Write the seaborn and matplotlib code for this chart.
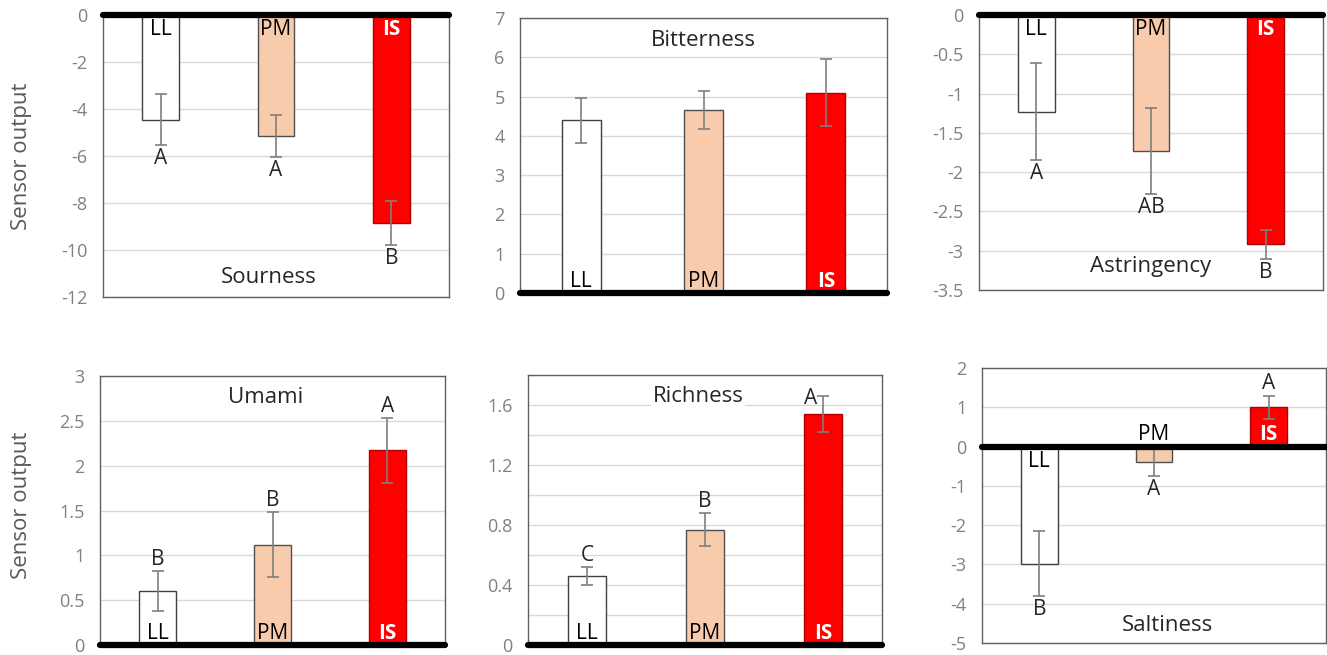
import matplotlib
matplotlib.use("Agg")
import numpy as np
import pandas as pd
import matplotlib.pyplot as plt
import seaborn as sns
from matplotlib.ticker import FuncFormatter, MultipleLocator

# groups and colours
groups = ["LL", "PM", "IS"]
bar_colors = ["#FFFFFF", "#F8CBAD", "#FF0000"]
edge_colors = ["#404040", "#505050", "#B00000"]

# mean sensor output, error (SD) and significance letters per taste
sourness = [-4.45, -5.15, -8.85]
sourness_err = [1.1, 0.9, 0.95]
sourness_letters = ["A", "A", "B"]

bitterness = [4.4, 4.65, 5.1]
bitterness_err = [0.57, 0.48, 0.85]
bitterness_letters = ["", "", ""]

astringency = [-1.23, -1.73, -2.92]
astringency_err = [0.62, 0.55, 0.19]
astringency_letters = ["A", "AB", "B"]

umami = [0.6, 1.12, 2.17]
umami_err = [0.22, 0.36, 0.36]
umami_letters = ["B", "B", "A"]

richness = [0.46, 0.77, 1.54]
richness_err = [0.06, 0.11, 0.12]
richness_letters = ["C", "B", "A"]

saltiness = [-2.98, -0.4, 1.0]
saltiness_err = [0.83, 0.35, 0.3]
saltiness_letters = ["B", "A", "A"]

sns.set_style("white")
plt.rcParams["font.family"] = ["Open Sans", "DejaVu Sans"]
plt.rcParams["axes.unicode_minus"] = False

W, H = 1327, 655
fig = plt.figure(figsize=(W / 100, H / 100), dpi=100)


def px_rect(left, top, right, bottom):
    return [left / W, 1 - bottom / H, (right - left) / W, (bottom - top) / H]


def draw_panel(rect, title, values, errs, letters, ylim, step, grid_step, title_xy):
    ax = fig.add_axes(rect)
    df = pd.DataFrame({"group": groups, "value": values})
    sns.barplot(data=df, x="group", y="value", hue="group", order=groups,
                hue_order=groups, palette=bar_colors, saturation=1, width=0.32,
                linewidth=1, legend=False, ax=ax, zorder=3)
    for patch, ec in zip(ax.patches, edge_colors):
        patch.set_edgecolor(ec)
    ax.errorbar(range(3), values, yerr=errs, fmt="none", ecolor="#7f7f7f",
                elinewidth=1.2, capsize=4, capthick=1.2, zorder=4)

    ax.set_xlim(-0.5, 2.5)
    ax.set_ylim(*ylim)
    ax.yaxis.set_major_locator(MultipleLocator(step))
    ax.yaxis.set_minor_locator(MultipleLocator(grid_step))
    ax.yaxis.set_major_formatter(FuncFormatter(lambda v, p: f"{round(v, 3):g}"))
    ax.grid(True, axis="y", which="both", color="#d9d9d9", lw=1)
    ax.set_axisbelow(True)
    ax.set_xticks([])
    ax.set_xlabel("")
    ax.set_ylabel("")
    ax.tick_params(axis="y", which="both", length=0, labelsize=13,
                   labelcolor="#808080", pad=11)
    for s in ax.spines.values():
        s.set_color("#606060")
        s.set_linewidth(1)
    ax.axhline(0, color="black", lw=4.5, zorder=6, clip_on=False)

    span = ylim[1] - ylim[0]
    # significance letters beyond the error bar ends
    for i, (v, e, let) in enumerate(zip(values, errs, letters)):
        if not let:
            continue
        if v < 0:
            ax.annotate(let, (i, v - e), xytext=(0, -2), textcoords="offset points",
                        ha="center", va="top", fontsize=15)
        elif (ylim[1] - (v + e)) / span < 0.09:
            ax.annotate(let, (i, v + e), xytext=(-4, -2), textcoords="offset points",
                        ha="right", va="center", fontsize=15)
        else:
            ax.annotate(let, (i, v + e), xytext=(0, 1), textcoords="offset points",
                        ha="center", va="bottom", fontsize=15)

    # group names at the bar base
    for i, (v, g) in enumerate(zip(values, groups)):
        is_red = g == "IS"
        sign = 1 if v > 0 else -1
        if abs(v) / span < 0.08:
            sign = -sign
            is_red = False
        if sign < 0:
            off, va = -3, "top"
        else:
            off, va = 1, "bottom"
        ax.annotate(g, (i, 0), xytext=(0, off), textcoords="offset points",
                    ha="center", va=va, fontsize=15,
                    color="white" if is_red else "black",
                    fontweight="bold" if is_red else "normal", zorder=7)

    ax.text(title_xy[0], title_xy[1], title, transform=ax.transAxes,
            ha="center", va="center", fontsize=16, zorder=2,
            bbox=dict(fc="white", ec="none", pad=1))
    return ax


draw_panel(px_rect(103, 15, 449, 297), "Sourness", sourness, sourness_err,
           sourness_letters, (-12, 0), 2, 2, (0.48, 0.07))
draw_panel(px_rect(520, 18, 887, 293), "Bitterness", bitterness, bitterness_err,
           bitterness_letters, (0, 7), 1, 1, (0.5, 0.92))
draw_panel(px_rect(979, 15, 1323, 290), "Astringency", astringency, astringency_err,
           astringency_letters, (-3.5, 0), 0.5, 0.5, (0.5, 0.085))
draw_panel(px_rect(100, 376, 445, 645), "Umami", umami, umami_err,
           umami_letters, (0, 3), 0.5, 0.5, (0.48, 0.92))
draw_panel(px_rect(528, 375, 882, 645), "Richness", richness, richness_err,
           richness_letters, (0, 1.8), 0.4, 0.2, (0.48, 0.92))
draw_panel(px_rect(982, 368, 1326, 643), "Saltiness", saltiness, saltiness_err,
           saltiness_letters, (-5, 2), 1, 1, (0.54, 0.065))

fig.text(22 / W, 1 - 156 / H, "Sensor output", rotation=90, ha="center",
         va="center", fontsize=16, color="#595959")
fig.text(22 / W, 1 - 505 / H, "Sensor output", rotation=90, ha="center",
         va="center", fontsize=16, color="#595959")

fig.savefig("out.png", dpi=100)
